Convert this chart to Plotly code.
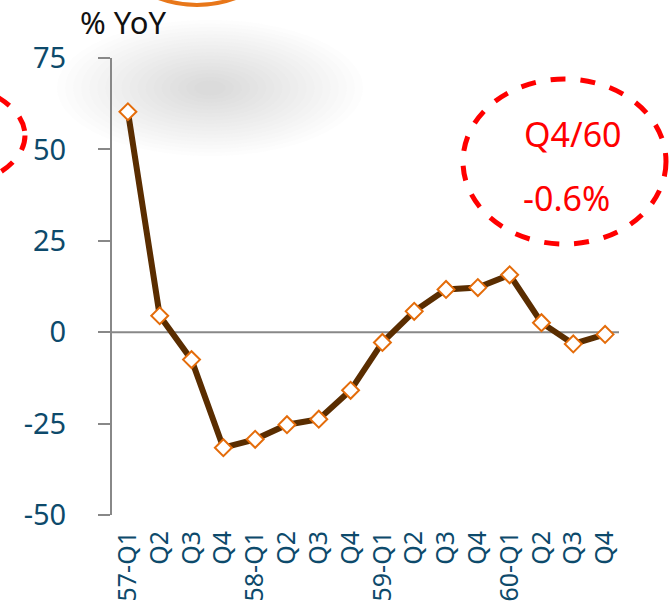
import plotly.graph_objects as go

categories = ["57-Q1", "Q2 ", "Q3 ", "Q4 ", "58-Q1", "Q2  ", "Q3  ", "Q4  ",
              "59-Q1", "Q2   ", "Q3   ", "Q4   ", "60-Q1", "Q2", "Q3", "Q4"]
tick_labels = ["57-Q1", "Q2", "Q3", "Q4", "58-Q1", "Q2", "Q3", "Q4",
               "59-Q1", "Q2", "Q3", "Q4", "60-Q1", "Q2", "Q3", "Q4"]
yoy = [60.3, 4.5, -7.5, -31.6, -29.3, -25.3, -23.8, -15.9,
       -2.8, 5.7, 11.7, 12.2, 15.7, 2.6, -3.2, -0.6]
y_ticks = [75, 50, 25, 0, -25, -50]
y_tick_labels = ["75", "50", "25", "0", "-25", "-50"]

W, H = 671, 604
L, R, T, B = 112, 621, 58, 515

def px(x):
    return (x - L) / (R - L)

def py(y):
    return (B - y) / (B - T)

fig = go.Figure()
fig.add_trace(go.Scatter(
    x=list(range(len(categories))), y=yoy, mode="lines+markers",
    line=dict(color="#5a2d00", width=6),
    marker=dict(symbol="diamond", size=13, color="white",
                line=dict(color="#e46c0a", width=2)),
    showlegend=False, cliponaxis=False))

shapes = []
# blurred shadow (layered translucent ellipses)
n = 18
cx, cy = 210, 88
for i in range(n):
    f = 1 - i / n
    rx, ry = 145 * f + 8, 64 * f + 4
    shapes.append(dict(type="circle", xref="paper", yref="paper", layer="below",
                       x0=px(cx - rx), x1=px(cx + rx), y0=py(cy + ry), y1=py(cy - ry),
                       fillcolor="rgba(140,140,140,0.018)", line=dict(width=0)))
# orange circle at top (partially visible)
shapes.append(dict(type="circle", xref="paper", yref="paper",
                   x0=px(197 - 110), x1=px(197 + 110), y0=py(5), y1=py(-215),
                   line=dict(color="#e8771a", width=4), fillcolor="rgba(0,0,0,0)"))
# left dashed ellipse
shapes.append(dict(type="circle", xref="paper", yref="paper",
                   x0=px(-190), x1=px(25), y0=py(193), y1=py(78),
                   line=dict(color="#ff0000", width=5, dash="dash")))
# right dashed ellipse
shapes.append(dict(type="circle", xref="paper", yref="paper",
                   x0=px(463), x1=px(666), y0=py(244), y1=py(79),
                   line=dict(color="#ff0000", width=5, dash="dash")))
# zero line
shapes.append(dict(type="line", xref="paper", yref="y", x0=0, x1=px(619), y0=0, y1=0,
                   line=dict(color="#888888", width=2), layer="below"))

annotations = [
    dict(text="% YoY", xref="paper", yref="paper", x=px(78), y=py(22),
         xanchor="left", yanchor="middle", showarrow=False,
         font=dict(size=31, color="#111111", family="Noto Sans")),
    dict(text="Q4/60", xref="paper", yref="paper", x=px(573), y=py(134),
         xanchor="center", yanchor="middle", showarrow=False,
         font=dict(size=34, color="#ff0000", family="Noto Sans")),
    dict(text="-0.6%", xref="paper", yref="paper", x=px(566), y=py(198),
         xanchor="center", yanchor="middle", showarrow=False,
         font=dict(size=34, color="#ff0000", family="Noto Sans")),
]

fig.update_layout(
    width=W, height=H, margin=dict(l=L, r=W - R, t=T, b=H - B, autoexpand=False),
    paper_bgcolor="white", plot_bgcolor="white",
    font=dict(family="Noto Sans", color="#0d4a6b"),
    shapes=shapes, annotations=annotations,
    xaxis=dict(range=[-0.5, 15.5], tickmode="array", automargin=False,
               tickvals=list(range(len(categories))), ticktext=tick_labels,
               tickangle=-90, showgrid=False, showline=False, zeroline=False,
               ticks="", tickfont=dict(size=25, color="#0d4a6b"),
               ticklabelstandoff=10),
    yaxis=dict(range=[-50, 75], tickmode="array", tickvals=y_ticks,
               ticktext=y_tick_labels, showgrid=False, automargin=False,
               zeroline=False, showline=True, linecolor="#888888", linewidth=2,
               ticks="outside", ticklen=12, tickcolor="#888888", tickwidth=2,
               tickfont=dict(size=29, color="#0d4a6b"), ticklabelstandoff=26),
)

fig.write_html("out.html", config={"displayModeBar": False},
               post_script="document.body.style.margin='0';document.body.style.overflow='hidden';")
